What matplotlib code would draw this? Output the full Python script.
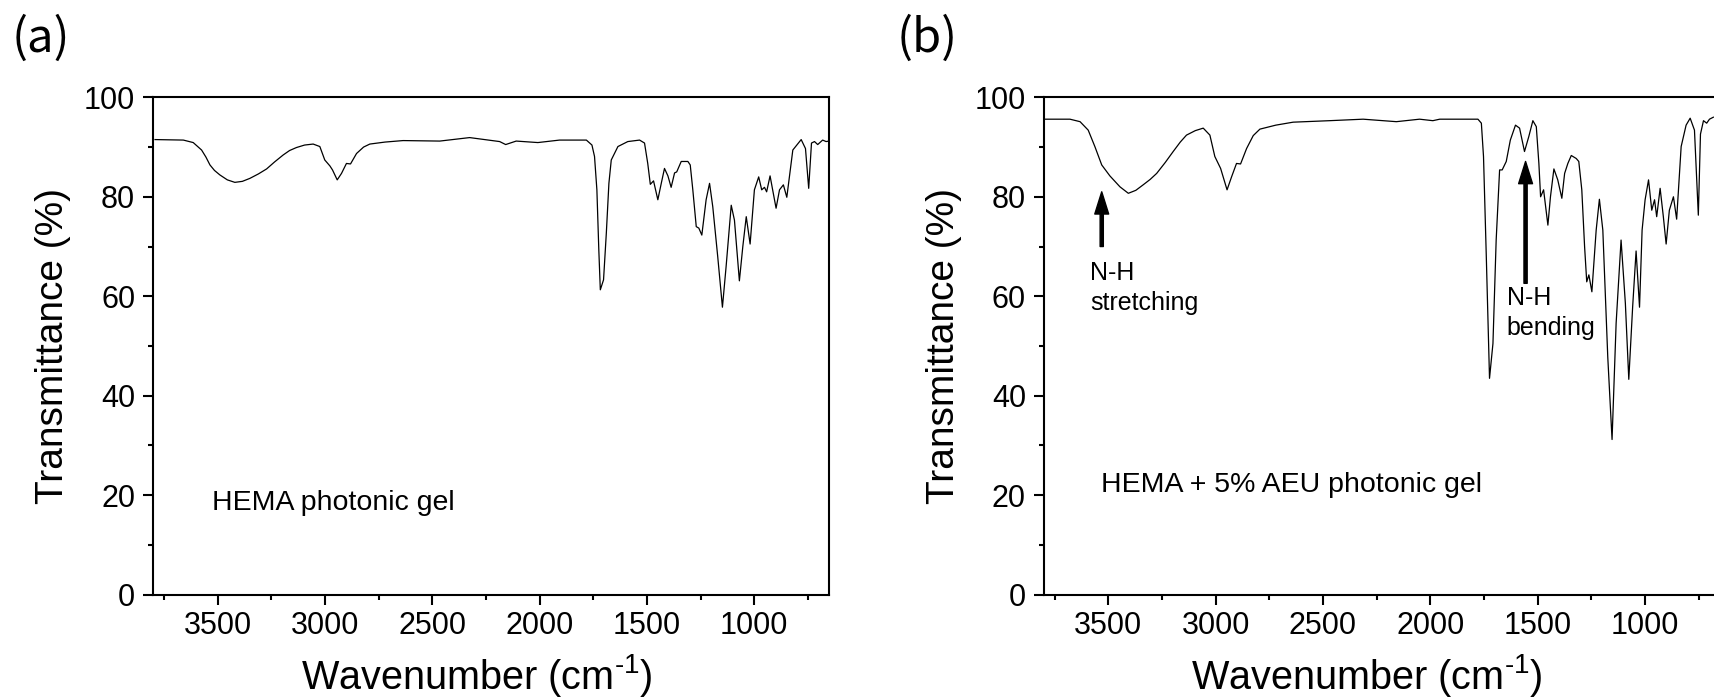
import matplotlib
matplotlib.use("Agg")
import matplotlib.pyplot as plt
from matplotlib.ticker import MultipleLocator

# ---------------- data ----------------
wn_a = [3792, 3660, 3614, 3575, 3555, 3536, 3515, 3490, 3455, 3420, 3385, 3350,
        3310, 3272, 3235, 3195, 3165, 3133, 3095, 3055, 3024, 3001, 2977, 2965,
        2943, 2923, 2900, 2881, 2853, 2820, 2791, 2720, 2636, 2465, 2326, 2186,
        2158, 2109, 2008, 1907,
        1782, 1756, 1744, 1733, 1724, 1717, 1702, 1689, 1677, 1666,
        1635, 1589, 1534, 1511, 1496, 1484, 1469, 1449, 1433, 1418,
        1402, 1387, 1371, 1361, 1340, 1309, 1298, 1286, 1270, 1258,
        1244, 1224, 1208, 1193, 1170, 1148, 1131, 1107, 1092, 1069,
        1053, 1037, 1019, 999, 979, 965, 952, 942, 926, 914,
        898, 882, 864, 848, 820, 781, 761, 746, 733, 719,
        704, 681, 665, 652]
t_a = [91.5, 91.4, 90.9, 89.4, 88.0, 86.4, 85.3, 84.4, 83.4, 82.9, 83.1, 83.7,
       84.6, 85.6, 87.0, 88.4, 89.3, 89.9, 90.4, 90.6, 90.1, 87.4, 86.2, 85.4,
       83.4, 84.7, 86.7, 86.6, 88.7, 90.0, 90.6, 91.0, 91.3, 91.2, 91.9, 91.1,
       90.5, 91.2, 90.9, 91.4,
       91.4, 90.4, 88.1, 81.4, 69.3, 61.3, 63.3, 72.7, 82.7, 87.4,
       90.1, 91.1, 91.4, 90.8, 86.7, 82.5, 83.2, 79.4, 82.7, 85.7,
       84.2, 81.9, 84.8, 85.0, 87.1, 87.1, 86.4, 81.4, 74.0, 73.7,
       72.3, 79.4, 82.7, 78.0, 68.0, 57.8, 65.9, 78.3, 75.3, 63.1,
       70.0, 76.0, 70.5, 81.4, 84.0, 81.4, 81.9, 81.0, 84.2, 81.4,
       77.7, 81.4, 82.4, 79.9, 89.4, 91.5, 89.7, 81.7, 90.8, 91.1,
       90.5, 91.4, 91.1, 91.2]

wn_b = [3795, 3679, 3632, 3594, 3563, 3531, 3493, 3446, 3407, 3372, 3338,
        3305, 3275, 3235, 3198, 3165, 3136, 3095, 3058, 3027, 3004, 2977,
        2947, 2926, 2903, 2884, 2856, 2825, 2794, 2720, 2639, 2469, 2313,
        2158, 2050, 1988, 1956,
        1778, 1762, 1752, 1739, 1724, 1708, 1693, 1677, 1665, 1646,
        1627, 1603, 1584, 1561, 1541, 1522, 1506, 1494, 1486, 1472,
        1452, 1440, 1424, 1406, 1387, 1374, 1359, 1343, 1320, 1308,
        1294, 1281, 1271, 1261, 1247, 1227, 1212, 1196, 1173, 1153,
        1134, 1111, 1091, 1075, 1057, 1041, 1025, 1013, 999, 983,
        968, 955, 945, 929, 914, 901, 886, 867, 852, 831,
        808, 789, 769, 751, 741, 727, 712, 699, 681]
t_b = [95.6, 95.6, 95.1, 93.4, 90.1, 86.4, 84.2, 82.0, 80.7, 81.3, 82.4,
       83.5, 84.7, 86.9, 89.1, 91.0, 92.4, 93.3, 93.8, 92.4, 88.1, 85.7,
       81.4, 84.0, 86.7, 86.6, 89.7, 92.3, 93.6, 94.4, 95.0, 95.3, 95.6,
       95.1, 95.6, 95.3, 95.6,
       95.6, 94.8, 88.1, 68.0, 43.5, 50.5, 71.3, 85.4, 85.4, 87.1,
       91.4, 94.4, 93.8, 89.1, 92.1, 95.3, 94.1, 86.7, 80.0, 81.4,
       74.3, 80.0, 85.6, 83.4, 79.7, 84.7, 86.7, 88.3, 87.7, 87.1,
       81.4, 70.0, 62.9, 64.3, 60.9, 73.3, 79.5, 73.3, 47.8, 31.2,
       54.6, 71.3, 58.6, 43.3, 57.9, 69.1, 57.8, 73.3, 79.4, 83.4,
       77.3, 79.4, 76.0, 81.7, 76.0, 70.5, 77.3, 80.0, 75.5, 90.1,
       94.4, 95.8, 93.4, 76.3, 92.6, 95.3, 94.8, 95.6, 96.0]

x_ticks = [3500, 3000, 2500, 2000, 1500, 1000]
y_ticks = [0, 20, 40, 60, 80, 100]
panel_labels = ["(a)", "(b)"]
sample_labels = ["HEMA photonic gel", "HEMA + 5% AEU photonic gel"]
xlabel = r"Wavenumber (cm$^{\text{-}\mathregular{1}}$)"
ylabel = "Transmittance (%)"
annot_stretch = "N-H\nstretching"
annot_bend = "N-H\nbending"

# ---------------- style ----------------
plt.rcParams["font.family"] = ["Liberation Sans", "DejaVu Sans"]
plt.rcParams["mathtext.fontset"] = "custom"
plt.rcParams["mathtext.rm"] = "Liberation Sans"
plt.rcParams["mathtext.it"] = "Liberation Sans:italic"
plt.rcParams["mathtext.bf"] = "Liberation Sans:bold"

W, H = 1714, 700
fig = plt.figure(figsize=(W / 100, H / 100), dpi=100)

ax_w = 676 / W
ax_h = 497.4 / H
ax_b = (H - 594.7) / H
lefts = [153.3 / W, 1044 / W]
label_x = [12 / W, 897 / W]
text_pos = [(3528, 17.0), (3535, 20.6)]

axes = []
for i, (wn, tt) in enumerate([(wn_a, t_a), (wn_b, t_b)]):
    ax = fig.add_axes([lefts[i], ax_b, ax_w, ax_h])
    axes.append(ax)
    ax.plot(wn, tt, color="black", lw=0.9)
    ax.set_xlim(3800, 650)
    ax.set_ylim(0, 100)
    ax.set_xticks(x_ticks)
    ax.set_yticks(y_ticks)
    ax.xaxis.set_minor_locator(MultipleLocator(250))
    ax.yaxis.set_minor_locator(MultipleLocator(10))
    ax.tick_params(which="both", direction="out", top=False, right=False,
                   width=1.5, labelsize=22)
    ax.tick_params(which="major", length=7)
    ax.tick_params(which="minor", length=3.5)
    ax.tick_params(axis="y", pad=6)
    ax.tick_params(axis="x", pad=5)
    for sp in ax.spines.values():
        sp.set_linewidth(1.5)
    ax.set_xlabel(xlabel, fontsize=28.5)
    ax.xaxis.set_label_coords(0.478, -0.116, transform=ax.transAxes)
    ax.xaxis.label.set_va("top")
    ax.set_ylabel(ylabel, fontsize=28, labelpad=9)
    ax.text(text_pos[i][0], text_pos[i][1], sample_labels[i], fontsize=20.5,
            ha="left", va="baseline")
    fig.text(label_x[i], 1 - 14 / H, panel_labels[i], fontsize=34,
             family=["Noto Sans CJK KR", "DejaVu Sans"], ha="left", va="top")

axb = axes[1]
arrow_kw = dict(facecolor="black", edgecolor="black", width=2.3,
                headwidth=10, headlength=16, shrink=0)
axb.annotate("", xy=(3531, 81.0), xytext=(3531, 70.0), arrowprops=arrow_kw)
axb.annotate("", xy=(1556, 87.1), xytext=(1556, 62.6), arrowprops=arrow_kw)
axb.text(3586, 57.2, annot_stretch, fontsize=18, ha="left", va="baseline",
         linespacing=1.3)
axb.text(1643, 52.2, annot_bend, fontsize=18, ha="left", va="baseline",
         linespacing=1.3)

fig.savefig("out.png", dpi=100)
